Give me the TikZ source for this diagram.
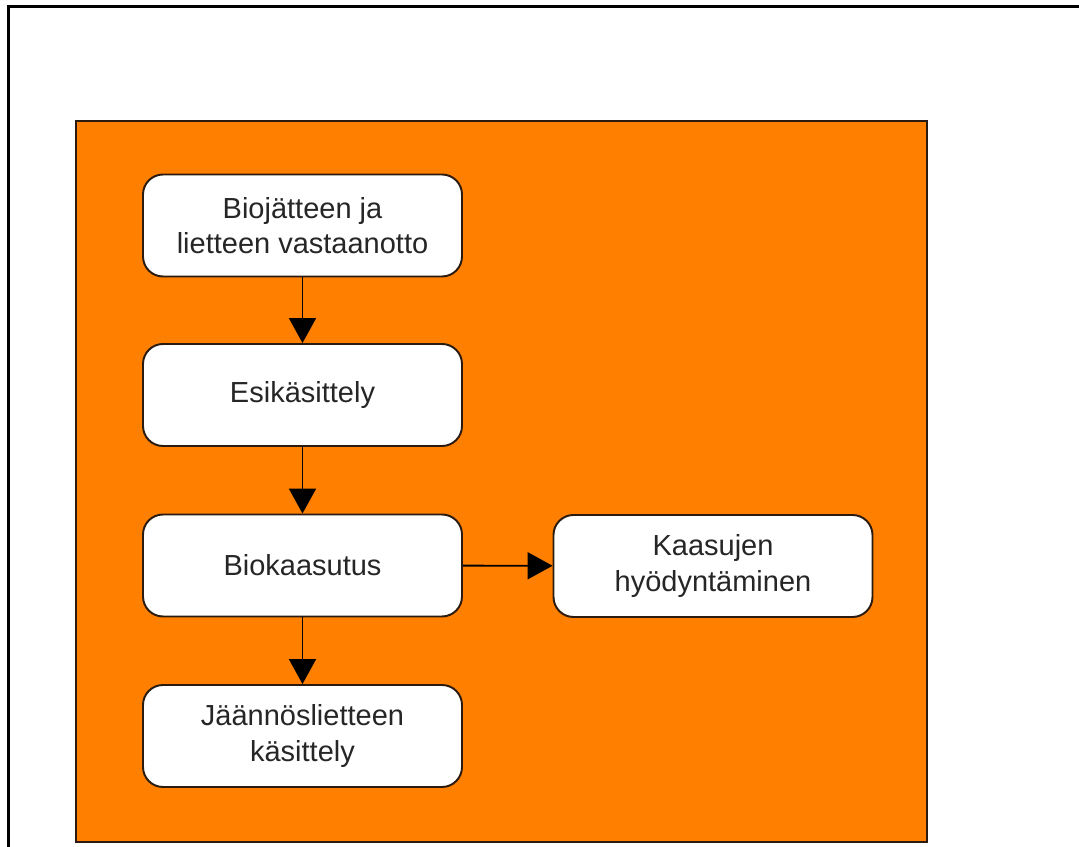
\documentclass[tikz,border=0pt]{standalone}
\usepackage{fontspec}
\setmainfont{Liberation Sans}
\usetikzlibrary{arrows.meta}
\definecolor{bgorange}{HTML}{FF8000}
\definecolor{boxline}{HTML}{2A1A10}

\begin{document}
\begin{tikzpicture}[
    stagebox/.style={draw=boxline, line width=1.1pt, fill=white, rounded corners=0.4cm,
        minimum width=6.38cm, minimum height=2.04cm, align=center, text=black!85,
        font=\fontsize{16.5}{20}\selectfont},
    flow/.style={line width=1.1pt, -{Triangle[length=0.5cm,width=0.54cm]}}]
            \useasboundingbox (0,0) rectangle (21.58,16.94);
            \draw[line width=1.7pt] (0.17,0) -- (0.17,16.80) -- (21.58,16.80);
            \draw[fill=bgorange, draw=boxline, line width=1pt] (1.52,0.10) rectangle (18.54,14.52);

            \node[stagebox] (receive) at (6.05,12.43) {Biojätteen ja\\lietteen vastaanotto};
            \node[stagebox] (pretreat) at (6.05,9.04) {Esikäsittely};
            \node[stagebox] (digest) at (6.05,5.63) {Biokaasutus};
            \node[stagebox] (residue) at (6.05,2.22) {Jäännöslietteen\\käsittely};
            \node[stagebox] (gasuse) at (14.26,5.62) {Kaasujen\\hyödyntäminen};

            \draw[flow] (receive) -- (pretreat);
            \draw[flow] (pretreat) -- (digest);
            \draw[flow] (digest) -- (residue);
            \draw[flow] (digest) -- (gasuse);
        \end{tikzpicture}
\end{document}
